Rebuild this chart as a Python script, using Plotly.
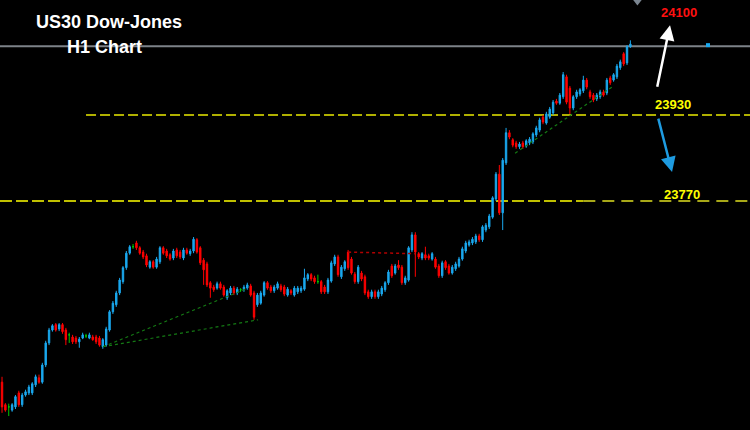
import plotly.graph_objects as go

# ---------------- data ----------------
opens = [
    23433, 23391, 23387, 23381, 23387, 23413, 23391, 23409, 23413, 23413,
    23428, 23441, 23433, 23465, 23506, 23530, 23540, 23532, 23540, 23530,
    23521, 23517, 23515, 23508, 23515, 23519, 23515, 23517, 23517, 23515,
    23499, 23502, 23530, 23564, 23577, 23599, 23620, 23646, 23673, 23685,
    23692, 23683, 23675, 23668, 23647, 23657, 23647, 23657, 23683, 23677,
    23670, 23664, 23679, 23675, 23664, 23679, 23672, 23677, 23698, 23683,
    23660, 23653, 23618, 23610, 23608, 23616, 23610, 23590, 23599, 23608,
    23599, 23605, 23605, 23608, 23612, 23599, 23577, 23580, 23595, 23618,
    23610, 23603, 23608, 23612, 23610, 23595, 23603, 23595, 23601, 23603,
    23606, 23625, 23633, 23627, 23620, 23620, 23610, 23601, 23621, 23653,
    23666, 23629, 23644, 23675, 23662, 23634, 23620, 23636, 23629, 23601,
    23592, 23601, 23592, 23597, 23605, 23618, 23649, 23636, 23651, 23647,
    23618, 23623, 23679, 23707, 23672, 23664, 23670, 23668, 23662, 23662,
    23649, 23631, 23657, 23649, 23636, 23644, 23649, 23662, 23677, 23688,
    23692, 23694, 23705, 23698, 23716, 23722, 23740, 23774, 23820, 23748,
    23841, 23897, 23884, 23878, 23871, 23878, 23872, 23878, 23880, 23893,
    23902, 23926, 23915, 23926, 23934, 23956, 23952, 23964, 24001, 23980,
    23943, 23964, 23969, 23975, 23995, 23973, 23967, 23960, 23964, 23973,
    23971, 23999, 23995, 24001, 24018, 24044, 24027, 24057,
]
highs = [
    23443, 23394, 23393, 23394, 23409, 23417, 23413, 23419, 23428, 23433,
    23447, 23447, 23469, 23510, 23534, 23541, 23543, 23543, 23543, 23534,
    23525, 23521, 23519, 23517, 23525, 23523, 23525, 23521, 23521, 23519,
    23515, 23536, 23567, 23584, 23603, 23627, 23649, 23677, 23688, 23690,
    23696, 23686, 23679, 23672, 23660, 23660, 23666, 23686, 23686, 23681,
    23673, 23681, 23683, 23679, 23683, 23683, 23681, 23703, 23701, 23686,
    23664, 23657, 23621, 23614, 23620, 23620, 23614, 23606, 23612, 23612,
    23610, 23608, 23614, 23618, 23616, 23603, 23599, 23603, 23621, 23621,
    23614, 23614, 23620, 23616, 23614, 23610, 23606, 23612, 23612, 23612,
    23644, 23636, 23636, 23631, 23633, 23623, 23614, 23627, 23659, 23670,
    23670, 23651, 23660, 23679, 23666, 23638, 23651, 23640, 23633, 23605,
    23605, 23605, 23605, 23612, 23621, 23642, 23653, 23653, 23660, 23651,
    23631, 23686, 23712, 23712, 23675, 23675, 23685, 23672, 23675, 23666,
    23653, 23659, 23660, 23653, 23651, 23657, 23666, 23685, 23696, 23698,
    23703, 23709, 23709, 23725, 23729, 23746, 23779, 23824, 23837, 23850,
    23906, 23902, 23887, 23882, 23880, 23882, 23885, 23889, 23898, 23910,
    23925, 23930, 23936, 23945, 23958, 23960, 23971, 24010, 24005, 23984,
    23967, 23977, 23980, 24003, 23999, 23977, 23971, 23971, 23977, 23977,
    23999, 24003, 24008, 24025, 24033, 24047, 24060, 24069,
]
lows = [
    23376, 23378, 23370, 23378, 23383, 23387, 23387, 23406, 23409, 23409,
    23424, 23430, 23430, 23461, 23502, 23527, 23527, 23528, 23523, 23502,
    23506, 23504, 23504, 23497, 23513, 23515, 23513, 23510, 23504, 23499,
    23495, 23499, 23527, 23560, 23573, 23595, 23616, 23642, 23670, 23681,
    23679, 23670, 23662, 23647, 23644, 23644, 23644, 23653, 23670, 23664,
    23659, 23660, 23664, 23662, 23660, 23670, 23668, 23673, 23672, 23651,
    23614, 23610, 23590, 23601, 23605, 23605, 23592, 23586, 23595, 23595,
    23595, 23601, 23601, 23605, 23592, 23549, 23573, 23577, 23592, 23605,
    23599, 23599, 23605, 23601, 23593, 23592, 23595, 23592, 23597, 23599,
    23603, 23621, 23621, 23616, 23616, 23597, 23597, 23597, 23618, 23649,
    23629, 23625, 23640, 23642, 23633, 23616, 23616, 23621, 23595, 23588,
    23588, 23588, 23588, 23593, 23601, 23614, 23627, 23633, 23642, 23614,
    23614, 23620, 23675, 23629, 23662, 23660, 23660, 23660, 23659, 23644,
    23627, 23627, 23642, 23633, 23633, 23640, 23646, 23659, 23673, 23685,
    23688, 23690, 23694, 23694, 23712, 23718, 23737, 23770, 23744, 23716,
    23837, 23885, 23870, 23867, 23867, 23867, 23869, 23874, 23876, 23889,
    23898, 23913, 23912, 23923, 23930, 23949, 23949, 23960, 23950, 23932,
    23939, 23960, 23965, 23971, 23978, 23960, 23954, 23956, 23960, 23964,
    23967, 23986, 23992, 23997, 24014, 24021, 24023, 24055,
]
closes = [
    23387, 23381, 23387, 23391, 23406, 23391, 23409, 23415, 23424, 23430,
    23443, 23433, 23465, 23506, 23530, 23538, 23530, 23540, 23527, 23512,
    23521, 23508, 23508, 23513, 23521, 23519, 23521, 23512, 23508, 23502,
    23512, 23532, 23564, 23580, 23599, 23623, 23646, 23673, 23685, 23685,
    23683, 23673, 23666, 23651, 23657, 23647, 23662, 23683, 23673, 23668,
    23662, 23677, 23668, 23666, 23679, 23673, 23677, 23699, 23675, 23655,
    23642, 23614, 23608, 23605, 23616, 23608, 23595, 23603, 23608, 23599,
    23606, 23605, 23610, 23614, 23595, 23554, 23595, 23599, 23618, 23608,
    23603, 23610, 23616, 23605, 23597, 23606, 23599, 23608, 23608, 23608,
    23627, 23633, 23625, 23620, 23620, 23601, 23601, 23623, 23655, 23666,
    23633, 23647, 23657, 23646, 23636, 23620, 23647, 23625, 23599, 23592,
    23601, 23592, 23601, 23608, 23618, 23638, 23631, 23649, 23646, 23618,
    23627, 23683, 23707, 23675, 23666, 23672, 23664, 23664, 23672, 23647,
    23631, 23655, 23646, 23636, 23647, 23653, 23662, 23681, 23692, 23694,
    23699, 23705, 23698, 23722, 23725, 23742, 23776, 23820, 23748, 23846,
    23897, 23889, 23874, 23871, 23876, 23871, 23882, 23885, 23895, 23906,
    23921, 23917, 23932, 23941, 23954, 23952, 23967, 24005, 23954, 23943,
    23964, 23973, 23977, 23995, 23982, 23964, 23958, 23967, 23973, 23967,
    23995, 23990, 24005, 24021, 24029, 24025, 24057, 24062,
]
doji_idx = [2, 20, 25, 39, 71, 94]

# levels and drawings (candle index, price)
level_upper = 23930
level_lower = 23770
last_price_line = 24058
target_label = "24100"
green_trend_lower = ([30.1, 76.2], [23499, 23549])
green_trend_upper = ([30.1, 73.2], [23499, 23608])
green_trend_late = ([152.7, 181.5], [23859, 23982])
red_trend = ([103.0, 122.9], [23675, 23672])
upper_level_start = 25.0
lower_level_split = 173.0
up_arrow = dict(tail=(194.9, 23980), head=(198.8, 24097))
down_arrow = dict(tail=(195.2, 23926), head=(199.4, 23824))
price_marker = (210.1, 24060)
time_marker = (189.1, 24144)

X_RANGE = [-0.6, 222.6]
Y_RANGE = [23344, 24144]

BLUE = "#1aa8ee"
RED = "#ff0000"
GREEN = "#00c800"

n = len(opens)
xs = list(range(n))
main = [i for i in xs if i not in doji_idx]

fig = go.Figure()
fig.add_trace(go.Candlestick(
    x=[xs[i] for i in main],
    open=[opens[i] for i in main], high=[highs[i] for i in main],
    low=[lows[i] for i in main], close=[closes[i] for i in main],
    increasing=dict(line=dict(color=BLUE, width=1), fillcolor=BLUE),
    decreasing=dict(line=dict(color=RED, width=1), fillcolor=RED),
    hoverinfo="skip", showlegend=False,
))
fig.add_trace(go.Candlestick(
    x=[xs[i] for i in doji_idx],
    open=[opens[i] for i in doji_idx], high=[highs[i] for i in doji_idx],
    low=[lows[i] for i in doji_idx], close=[closes[i] for i in doji_idx],
    increasing=dict(line=dict(color=GREEN, width=1), fillcolor=GREEN),
    decreasing=dict(line=dict(color=GREEN, width=1), fillcolor=GREEN),
    hoverinfo="skip", showlegend=False,
))

for (tx, ty), col, w in [(green_trend_lower, "#147a14", 1.2),
                         (green_trend_upper, "#147a14", 1.2),
                         (green_trend_late, "#147a14", 1.2),
                         (red_trend, "#b00000", 1.5)]:
    fig.add_trace(go.Scatter(x=tx, y=ty, mode="lines",
                             line=dict(color=col, width=w, dash="3px,3px"),
                             hoverinfo="skip", showlegend=False))

fig.add_trace(go.Scatter(x=[price_marker[0]], y=[price_marker[1]], mode="markers",
                         marker=dict(symbol="square", size=4, color=BLUE),
                         hoverinfo="skip", showlegend=False))
fig.add_trace(go.Scatter(x=[time_marker[0]], y=[time_marker[1]], mode="markers",
                         marker=dict(symbol="triangle-down", size=11, color="#7a8590"),
                         hoverinfo="skip", showlegend=False))

# horizontal lines
fig.add_shape(type="line", xref="x", yref="y", x0=X_RANGE[0], x1=X_RANGE[1],
              y0=last_price_line, y1=last_price_line,
              line=dict(color="#7d8288", width=2), layer="below")
fig.add_shape(type="line", xref="x", yref="y", x0=upper_level_start, x1=X_RANGE[1],
              y0=level_upper, y1=level_upper,
              line=dict(color="#b0b000", width=2, dash="10px,4px"), layer="below")
fig.add_shape(type="line", xref="x", yref="y", x0=X_RANGE[0], x1=lower_level_split,
              y0=level_lower, y1=level_lower,
              line=dict(color="#c0c000", width=2, dash="12px,4px"), layer="below")
fig.add_shape(type="line", xref="x", yref="y", x0=lower_level_split, x1=X_RANGE[1],
              y0=level_lower, y1=level_lower,
              line=dict(color="#e0e020", width=1.5, dash="12px,7px"), layer="below")

# arrows
for arr, col in [(up_arrow, "white"), (down_arrow, "#1e9be0")]:
    fig.add_annotation(x=arr["head"][0], y=arr["head"][1], ax=arr["tail"][0], ay=arr["tail"][1],
                       xref="x", yref="y", axref="x", ayref="y", text="", showarrow=True,
                       arrowhead=2, arrowsize=1.2, arrowwidth=2.5, arrowcolor=col)

FONT = "Liberation Sans, Arial, sans-serif"
fig.add_annotation(x=0.1453, y=0.9488, xref="paper", yref="paper", text="<b>US30 Dow-Jones</b>",
                   showarrow=False, font=dict(family=FONT, size=18, color="white"),
                   xanchor="center", yanchor="middle")
fig.add_annotation(x=0.1387, y=0.8907, xref="paper", yref="paper", text="<b>H1 Chart</b>",
                   showarrow=False, font=dict(family=FONT, size=18, color="white"),
                   xanchor="center", yanchor="middle")
fig.add_annotation(x=0.9053, y=0.9698, xref="paper", yref="paper", text="<b>%s</b>" % target_label,
                   showarrow=False, font=dict(family=FONT, size=13, color="#ff1010"),
                   xanchor="center", yanchor="middle")
fig.add_annotation(x=0.8973, y=0.7581, xref="paper", yref="paper", text="<b>%d</b>" % level_upper,
                   showarrow=False, font=dict(family=FONT, size=13, color="#ffff00"),
                   xanchor="center", yanchor="middle")
fig.add_annotation(x=0.9093, y=0.5488, xref="paper", yref="paper", text="<b>%d</b>" % level_lower,
                   showarrow=False, font=dict(family=FONT, size=13, color="#ffff00"),
                   xanchor="center", yanchor="middle")

fig.update_layout(
    width=750, height=430,
    margin=dict(l=0, r=0, t=0, b=0),
    paper_bgcolor="black", plot_bgcolor="black",
    showlegend=False, boxgap=0.4,
    xaxis=dict(visible=False, range=X_RANGE, rangeslider=dict(visible=False), fixedrange=True),
    yaxis=dict(visible=False, range=Y_RANGE, fixedrange=True),
)

fig.write_html(
    "out.html",
    config={"displayModeBar": False},
    post_script="document.body.style.margin='0';document.body.style.background='black';",
)
